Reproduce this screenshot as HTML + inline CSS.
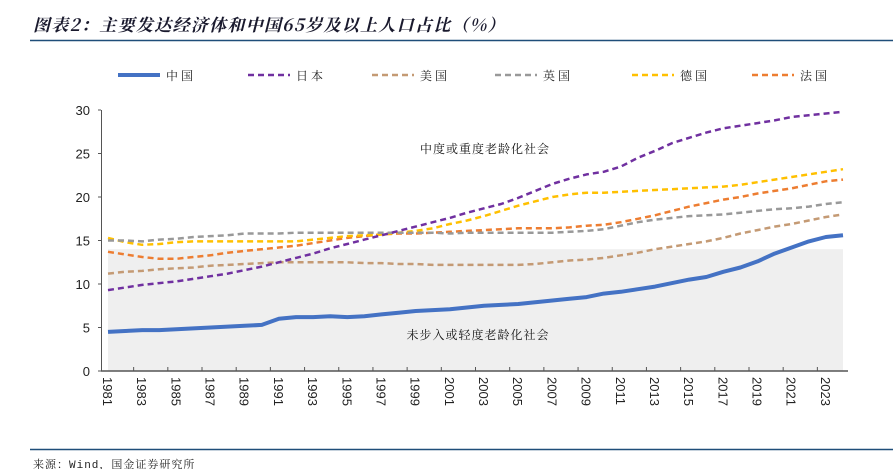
<!DOCTYPE html>
<html><head><meta charset="utf-8"><style>
body{margin:0;background:#fff;}
svg{display:block;font-family:"Liberation Sans","Noto Sans CJK SC",sans-serif;}
</style></head><body>
<svg id="chart" width="893" height="469" viewBox="0 0 893 469">
<text x="33" y="31" font-size="17" font-weight="bold" font-style="italic" fill="#1a1a2e" letter-spacing="1.3" font-family="'Noto Serif CJK SC','Noto Sans CJK SC',sans-serif">图表2：主要发达经济体和中国65岁及以上人口占比（%）</text>
<line x1="30" y1="40.5" x2="893" y2="40.5" stroke="#1f4e79" stroke-width="1.5"/>
<g id="legend"></g>
<rect id="band" fill="#efefef"/>
<g id="axes"></g>
<g id="series"></g>
<text x="485" y="153" font-size="12" text-anchor="middle" fill="#111" letter-spacing="1" font-family="'Noto Serif CJK SC',serif">中度或重度老龄化社会</text>
<text x="478" y="339" font-size="12" text-anchor="middle" fill="#111" letter-spacing="1" font-family="'Noto Serif CJK SC',serif">未步入或轻度老龄化社会</text>
<line x1="30" y1="449.5" x2="893" y2="449.5" stroke="#1f4e79" stroke-width="1.5"/>
<text x="33" y="468" font-size="11" fill="#222" letter-spacing="1" font-family="'Liberation Mono','Noto Serif CJK SC',monospace">来源：Wind，国金证券研究所</text>
</svg>
<script>
const years=[];for(let y=1981;y<=2024;y++)years.push(y);
const yTicks=[0,5,10,15,20,25,30];
const bandValue=14;
const seriesNames=["中国","日本","美国","英国","德国","法国"];
const china=[4.5,4.6,4.7,4.7,4.8,4.9,5.0,5.1,5.2,5.3,6.0,6.2,6.2,6.3,6.2,6.3,6.5,6.7,6.9,7.0,7.1,7.3,7.5,7.6,7.7,7.9,8.1,8.3,8.5,8.9,9.1,9.4,9.7,10.1,10.5,10.8,11.4,11.9,12.6,13.5,14.2,14.9,15.4,15.6];
const japan=[9.3,9.6,9.9,10.1,10.3,10.6,10.9,11.2,11.6,12.0,12.5,13.0,13.5,14.1,14.6,15.1,15.6,16.1,16.6,17.1,17.6,18.2,18.7,19.2,19.9,20.7,21.5,22.1,22.6,22.9,23.5,24.5,25.3,26.2,26.8,27.4,27.9,28.2,28.5,28.8,29.2,29.4,29.6,29.8];
const usa=[11.2,11.4,11.5,11.7,11.8,11.9,12.1,12.2,12.3,12.4,12.5,12.5,12.5,12.5,12.5,12.4,12.4,12.3,12.3,12.2,12.2,12.2,12.2,12.2,12.2,12.3,12.5,12.7,12.8,13.0,13.3,13.6,14.0,14.3,14.6,14.9,15.3,15.8,16.2,16.6,16.9,17.3,17.7,18.0];
const uk=[15.0,15.0,14.9,15.1,15.2,15.4,15.5,15.6,15.8,15.8,15.8,15.9,15.9,15.9,15.9,15.9,15.9,15.9,15.9,15.9,15.8,15.9,15.9,15.9,15.9,15.9,15.9,16.0,16.1,16.3,16.7,17.1,17.4,17.6,17.8,17.9,18.0,18.2,18.4,18.6,18.7,18.9,19.2,19.4];
const germany=[15.3,14.8,14.5,14.6,14.8,14.9,14.9,14.9,14.9,14.9,14.9,14.9,15.1,15.3,15.5,15.6,15.7,15.9,16.1,16.4,16.9,17.3,17.8,18.4,19.0,19.5,20.0,20.3,20.5,20.5,20.6,20.7,20.8,20.9,21.0,21.1,21.2,21.4,21.7,22.0,22.3,22.6,22.9,23.2];
const france=[13.7,13.4,13.1,12.9,12.9,13.1,13.3,13.6,13.8,14.0,14.2,14.4,14.7,15.0,15.3,15.5,15.7,15.8,15.8,15.9,16.0,16.1,16.2,16.3,16.4,16.4,16.4,16.5,16.7,16.8,17.1,17.5,17.9,18.4,18.9,19.3,19.7,20.0,20.4,20.7,21.0,21.4,21.8,22.0];

const NS="http://www.w3.org/2000/svg";
const X0=108,X1=843,Y0=371,Y1=110;
const step=(X1-X0)/(years.length-1);
const xs=i=>X0+i*step;
const ys=v=>Y0-(v-0)/(30-0)*(Y0-Y1);
function mk(t,a,p){const e=document.createElementNS(NS,t);for(const k in a)e.setAttribute(k,a[k]);p.appendChild(e);return e;}

const band=document.getElementById('band');
band.setAttribute('x',X0);band.setAttribute('y',ys(bandValue));band.setAttribute('width',X1-X0);band.setAttribute('height',Y0-ys(bandValue));

const axes=document.getElementById('axes');
const yAxis=mk('line',{x1:101.5,y1:Y1,x2:101.5,y2:Y0,stroke:'#555','stroke-width':1},axes);


const xAxis=mk('line',{x1:101,y1:Y0,x2:848,y2:Y0,stroke:'#555','stroke-width':1.5},axes);


yTicks.forEach(v=>{
  const tk=mk('line',{x1:98,y1:ys(v),x2:101,y2:ys(v),stroke:'#555'},axes);
  
  
  const t=mk('text',{x:90,y:ys(v)+5,'font-size':13,'text-anchor':'end',fill:'#222'},axes);
  t.textContent=v;
  
  
});
years.forEach((yr,i)=>{
  if(i%2===0){
    const tx=xs(i)+step*1.5;
    if(tx<X1+2){
      const tk=mk('line',{x1:tx,y1:Y0,x2:tx,y2:Y0-4,stroke:'#555'},axes);
      
      
    }
    const t=mk('text',{x:0,y:0,'font-size':13,fill:'#222',transform:`translate(${xs(i)-5},${Y0+6}) rotate(90)`},axes);
    t.textContent=yr;
    
    
  }
});

const cfg=[[china,'#4472c4',4,null,'china'],[japan,'#7030a0',2.5,'6 4','japan'],[usa,'#c49a74',2.5,'6 4','usa'],[uk,'#999999',2.5,'6 4','uk'],[germany,'#ffc000',2.5,'6 4','germany'],[france,'#ed7d31',2.5,'6 4','france']];
const sg=document.getElementById('series');
[5,4,3,2,1,0].forEach(k=>{
  const [data,col,w,dash,nm]=cfg[k];
  const d=data.map((v,i)=>(i?'L':'M')+xs(i).toFixed(1)+','+ys(v).toFixed(1)).join('');
  const a={d:d,fill:'none',stroke:col,'stroke-width':w,'stroke-linejoin':'round'};
  if(dash)a['stroke-dasharray']=dash;
  const p=mk('path',a,sg);
  
  
});

const lg=document.getElementById('legend');
const lx=[118,248,372,495,632,752];
cfg.forEach((c,k)=>{
  const a={x1:lx[k],y1:75,x2:lx[k]+42,y2:75,stroke:c[1],'stroke-width':c[3]?2.5:4};
  if(c[3])a['stroke-dasharray']='6 4';
  const l=mk('line',a,lg);
  
  
  const t=mk('text',{x:lx[k]+48,y:80,'font-size':12,fill:'#222','letter-spacing':'3','font-family':"'Noto Serif CJK SC',serif"},lg);
  t.textContent=seriesNames[k];
  
  
});
</script>
</body></html>
